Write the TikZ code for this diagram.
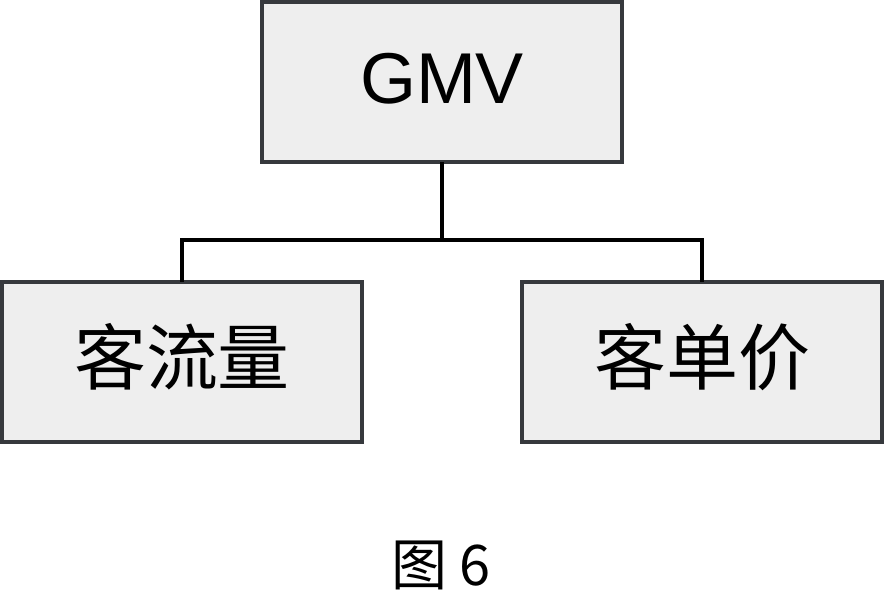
\documentclass[tikz,border=0pt]{standalone}
\usepackage{fontspec}
\setmainfont{Liberation Sans}
\newfontfamily\cjk{Noto Sans CJK SC}
\usetikzlibrary{positioning}
\definecolor{boxfill}{HTML}{EEEEEE}
\definecolor{boxline}{HTML}{36393D}
\tikzset{
	box/.style={draw=boxline, fill=boxfill, line width=4pt, outer sep=0pt,
		minimum width=360pt, minimum height=160pt, inner sep=0pt,
		font=\fontsize{72pt}{80pt}\selectfont, text height=52pt, text depth=8pt},
	link/.style={draw=black, line width=4pt}
}
\begin{document}
\begin{tikzpicture}[x=1pt, y=-1pt]
	\useasboundingbox (0,0) rectangle (884,604);
	\node[box] (gmv) at (442,82) {GMV};
	\node[box, below=120pt of gmv, xshift=-260pt] (kll) {\cjk 客流量};
	\node[box, below=120pt of gmv, xshift=260pt] (kdj) {\cjk 客单价};
	% tree connector
	\draw[link] (gmv.south) -- ++(0,78) coordinate (fork);
	\draw[link] (fork) -| (kll.north);
	\draw[link] (fork) -| (kdj.north);
	\node[font=\cjk\fontsize{56pt}{62pt}\selectfont] (cap) at (441,565) {图 6};
\end{tikzpicture}
\end{document}
